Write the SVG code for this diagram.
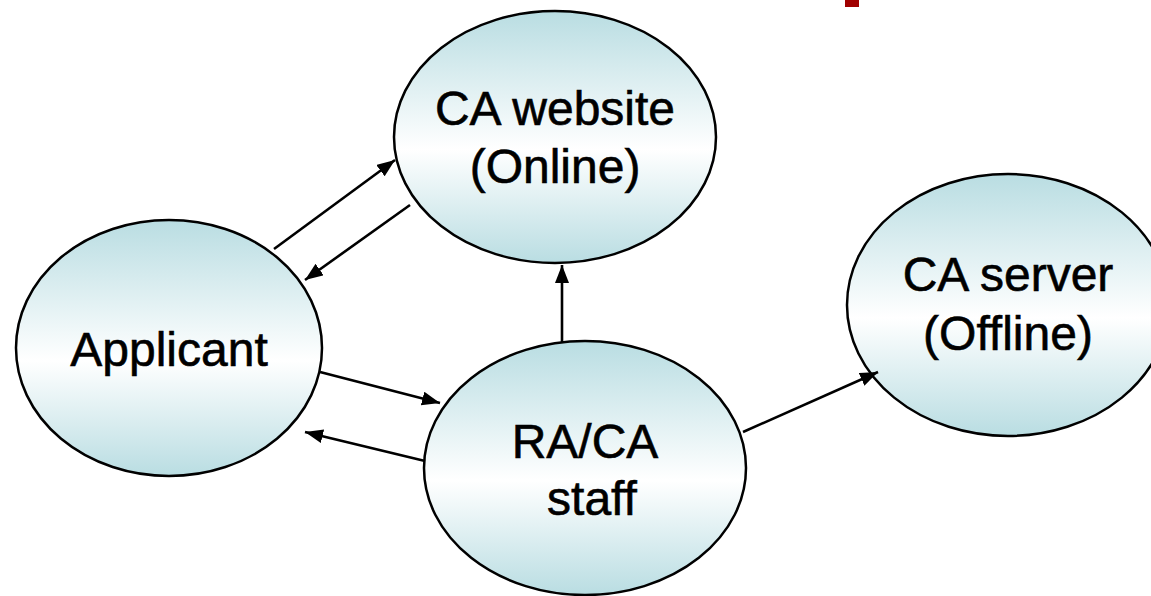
<svg xmlns="http://www.w3.org/2000/svg" width="1151" height="596" viewBox="0 0 1151 596">
<style>
.node ellipse{fill:url(#g);stroke:#000;stroke-width:2.5}
.node text{font-family:"Liberation Sans",Arial,sans-serif;font-size:48px;fill:#000;stroke:#000;stroke-width:0.6;text-anchor:middle}
.edge{stroke:#000;stroke-width:2.6;fill:none;marker-end:url(#ah)}
</style>
<defs>
<linearGradient id="g" x1="0" y1="0" x2="0" y2="1">
<stop offset="0" stop-color="#b9dde2"/>
<stop offset="0.55" stop-color="#ffffff"/>
<stop offset="1" stop-color="#b9dde2"/>
</linearGradient>
<marker id="ah" markerUnits="userSpaceOnUse" markerWidth="20" markerHeight="16" refX="18" refY="7" orient="auto">
<path d="M0,0 L18,7 L0,14 z" fill="#000"/>
</marker>
</defs>
<rect x="845" y="0" width="14" height="7" fill="#a00000"/>
<g id="applicant" class="node">
<ellipse cx="169" cy="348" rx="153" ry="128"/>
<text x="169" y="366">Applicant</text>
</g>
<g id="ca-website" class="node">
<ellipse cx="555" cy="137" rx="161" ry="126"/>
<text x="555" y="125">CA website</text>
<text x="555" y="183">(Online)</text>
</g>
<g id="ra-ca-staff" class="node">
<ellipse cx="585" cy="468" rx="161" ry="127"/>
<text x="585" y="458">RA/CA</text>
<text x="592" y="515">staff</text>
</g>
<g id="ca-server" class="node">
<ellipse cx="1008" cy="305" rx="161" ry="131"/>
<text x="1008" y="291">CA server</text>
<text x="1008" y="350">(Offline)</text>
</g>
<g id="connectors">
<line class="edge" x1="274" y1="249" x2="395" y2="160"/>
<line class="edge" x1="410" y1="205" x2="305" y2="280"/>
<line class="edge" x1="320" y1="372" x2="440" y2="403"/>
<line class="edge" x1="425" y1="461" x2="305" y2="432"/>
<line class="edge" x1="562" y1="342" x2="562" y2="265"/>
<line class="edge" x1="743" y1="432" x2="878" y2="372"/>
</g>
</svg>
